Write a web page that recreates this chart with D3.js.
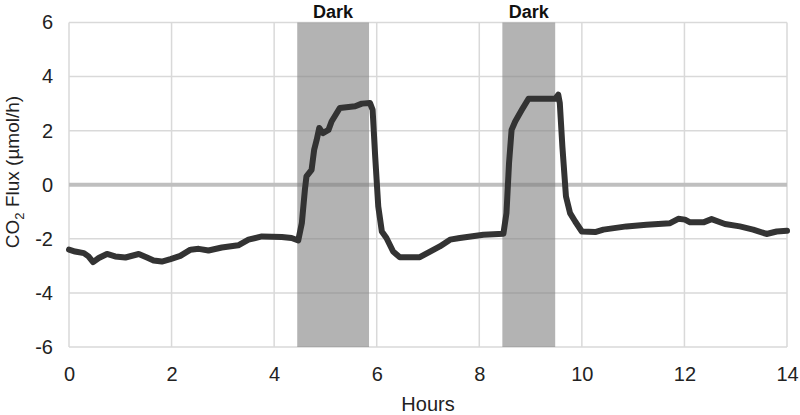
<!DOCTYPE html>
<html><head><meta charset="utf-8">
<script src="https://cdn.jsdelivr.net/npm/d3@7"></script>
<style>body{margin:0;background:#fff}svg{display:block;font-family:"Liberation Sans",Arial,sans-serif}</style>
</head><body><svg id="c" width="800" height="415"></svg>
<script>
const hours = [0,0.12,0.29,0.38,0.47,0.58,0.74,0.9,1.1,1.36,1.52,1.65,1.81,1.98,2.17,2.37,2.53,2.72,2.98,3.3,3.5,3.76,4.15,4.34,4.47,
  4.54,4.6,4.63,4.73,4.78,4.83,4.88,4.95,5.06,5.12,5.28,5.58,5.71,5.87,5.92,5.97,6.03,6.1,6.19,6.32,6.45,6.84,7.04,7.23,7.43,7.62,8.08,8.47,
  8.53,8.58,8.63,8.7,8.83,8.96,9.48,9.54,9.57,9.62,9.69,9.77,9.87,10.0,10.26,10.42,10.87,11.26,11.72,11.88,12.01,12.11,12.37,12.53,12.79,13.08,13.34,13.6,13.8,14.0];
const flux = [-2.4,-2.47,-2.53,-2.65,-2.86,-2.71,-2.56,-2.65,-2.69,-2.56,-2.69,-2.8,-2.84,-2.75,-2.63,-2.4,-2.37,-2.43,-2.32,-2.24,-2.03,-1.91,-1.93,-1.97,-2.06,
  -1.42,-0.18,0.31,0.55,1.29,1.66,2.1,1.91,2.03,2.34,2.84,2.9,3.0,3.02,2.77,1.05,-0.8,-1.73,-1.97,-2.47,-2.68,-2.68,-2.47,-2.28,-2.03,-1.97,-1.85,-1.81,
  -1.05,0.8,2.03,2.34,2.77,3.18,3.18,3.33,3.02,1.42,-0.43,-1.05,-1.36,-1.73,-1.75,-1.66,-1.54,-1.48,-1.42,-1.26,-1.29,-1.39,-1.39,-1.27,-1.45,-1.54,-1.66,-1.82,-1.73,-1.7];
const darkStart = [4.45, 8.45];
const darkEnd = [5.85, 9.48];
const darkLabels = ["Dark", "Dark"];
const xTicks = [0,2,4,6,8,10,12,14];
const yTicks = [-6,-4,-2,0,2,4,6];

const svg = d3.select("#c");
const x = d3.scaleLinear().domain([0,14]).range([69,787]);
const y = d3.scaleLinear().domain([-6,6]).range([347,22.5]);

// gridlines
svg.append("g").selectAll("line").data(yTicks.filter(d=>d!==0)).join("line")
  .attr("x1",x(0)).attr("x2",x(14)).attr("y1",d=>y(d)).attr("y2",d=>y(d))
  .attr("stroke","#d9d9d9").attr("stroke-width",1.5);
svg.append("g").selectAll("line").data(xTicks).join("line")
  .attr("x1",d=>x(d)).attr("x2",d=>x(d)).attr("y1",y(6)).attr("y2",y(-6))
  .attr("stroke","#d9d9d9").attr("stroke-width",1.5);
svg.append("line").attr("x1",x(0)).attr("x2",x(14)).attr("y1",y(0)).attr("y2",y(0))
  .attr("stroke","#bfbfbf").attr("stroke-width",4);

// dark periods
const dk = darkStart.map((s,i)=>({s, e:darkEnd[i], label:darkLabels[i]}));
svg.append("g").selectAll("rect").data(dk).join("rect")
  .attr("x",d=>x(d.s)).attr("width",d=>x(d.e)-x(d.s))
  .attr("y",y(6)).attr("height",y(-6)-y(6))
  .attr("fill","#808080").attr("fill-opacity",0.6);
svg.append("g").selectAll("text").data(dk).join("text")
  .attr("x",d=>(x(d.s)+x(d.e))/2).attr("y",18)
  .attr("text-anchor","middle").attr("font-weight","bold").attr("font-size",18)
  .attr("fill","#111").text(d=>d.label);

// line
const pts = hours.map((h,i)=>[h,flux[i]]);
svg.append("path").datum(pts)
  .attr("d", d3.line().x(d=>x(d[0])).y(d=>y(d[1])))
  .attr("fill","none").attr("stroke","#333").attr("stroke-width",6)
  .attr("stroke-linejoin","round").attr("stroke-linecap","round");

// axes labels
const xa = svg.append("g").attr("transform",`translate(0,${y(-6)})`)
  .call(d3.axisBottom(x).tickValues(xTicks).tickSize(0).tickPadding(20).tickFormat(d=>String(d)));
xa.select(".domain").remove();
xa.selectAll("text").attr("font-size",20).attr("fill","#222").attr("font-family","Liberation Sans, Arial, sans-serif");
const ya = svg.append("g").attr("transform",`translate(${x(0)},0)`)
  .call(d3.axisLeft(y).tickValues(yTicks).tickSize(0).tickPadding(16).tickFormat(d=>String(d)));
ya.select(".domain").remove();
ya.selectAll("text").attr("font-size",20).attr("fill","#222").attr("font-family","Liberation Sans, Arial, sans-serif");

svg.append("text").attr("x",(x(0)+x(14))/2).attr("y",411).attr("text-anchor","middle")
  .attr("font-size",20).attr("fill","#222").text("Hours");
const yt = svg.append("text").attr("transform",`translate(19,172) rotate(-90)`)
  .attr("text-anchor","middle").attr("font-size",19).attr("fill","#222");
yt.append("tspan").text("CO");
yt.append("tspan").attr("font-size",13).attr("dy",5).text("2");
yt.append("tspan").attr("dy",-5).text(" Flux (µmol/h)");
</script></body></html>
